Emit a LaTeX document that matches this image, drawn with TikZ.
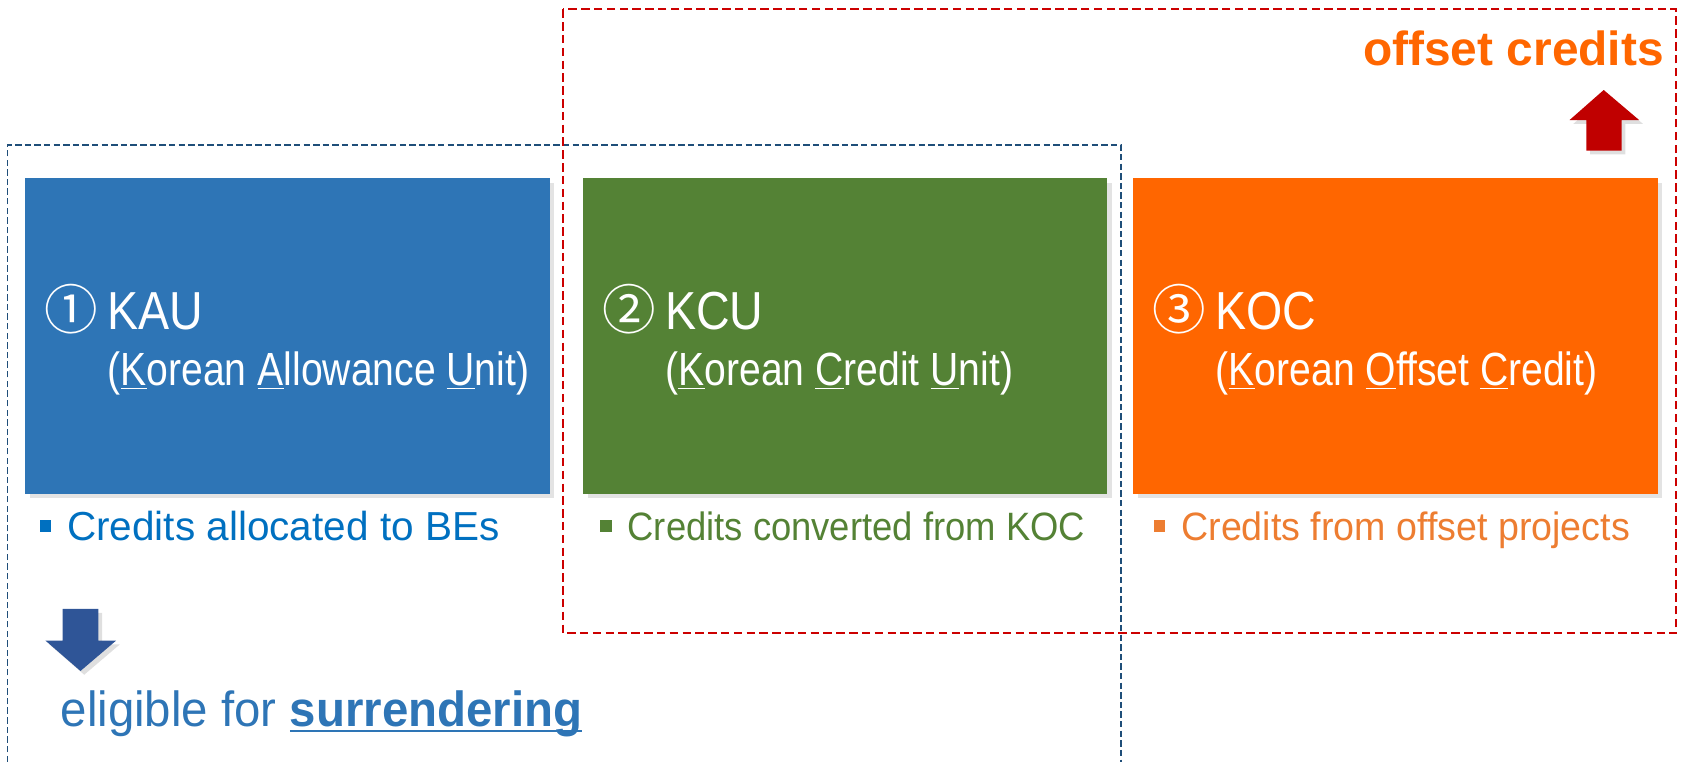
\documentclass[tikz,border=0pt]{standalone}
\usepackage{fontspec}
\usepackage{xcolor}
\setmainfont{Liberation Sans}
\newfontfamily\boxfont{Liberation Sans}[FakeStretch=0.87]
\newfontfamily\subfont{Liberation Sans}[FakeStretch=0.84]
\newfontfamily\narrowfont{Liberation Sans}[FakeStretch=0.92]
\newfontfamily\widefont{Liberation Sans}[FakeStretch=0.95]
\newfontfamily\eligfont{Liberation Sans}[FakeStretch=0.96]
\newfontfamily\circfont{Noto Sans CJK KR}

\definecolor{kaublue}{RGB}{46,117,182}
\definecolor{kcugreen}{RGB}{84,130,53}
\definecolor{kocorange}{RGB}{255,102,0}
\definecolor{kautext}{RGB}{0,112,192}
\definecolor{koctext}{RGB}{237,125,49}
\definecolor{arrowred}{RGB}{192,0,0}
\definecolor{arrowblue}{RGB}{47,85,151}
\definecolor{framered}{RGB}{204,0,0}
\definecolor{frameblue}{RGB}{31,78,121}
\usetikzlibrary{shadows,calc,positioning}

\newcommand{\bulsq}{\rule[4.4pt]{6pt}{6pt}\hspace{8.5pt}}
\newlength{\ulwd}
\newcommand{\ulword}[1]{\settowidth{\ulwd}{#1}\rlap{\rule[-3pt]{\ulwd}{1.1pt}}#1}

\begin{document}
\begin{tikzpicture}[x=0.02cm, y=-0.02cm,
  unitbox/.style={rectangle, draw=none, inner sep=0pt, anchor=north west,
    minimum width=9.78cm, minimum height=5.88cm,
    drop shadow={shadow xshift=2.5pt, shadow yshift=-2.5pt, opacity=0.22}},
  boxtitle/.style={anchor=base west, inner sep=0pt, text=white,
    font=\boxfont\fontsize{28.4}{30}\selectfont},
  boxsub/.style={anchor=base west, inner sep=0pt, text=white,
    font=\subfont\fontsize{24.7}{27}\selectfont},
  notetext/.style={anchor=base west, inner sep=0pt,
    font=\narrowfont\fontsize{21}{24}\selectfont},
  bluedash/.style={frameblue, line width=0.85pt, dash pattern=on 3.4pt off 1.7pt},
  reddash/.style={framered, line width=1.1pt, dash pattern=on 4.5pt off 2.3pt},
  arrowshadow/.style={drop shadow={shadow xshift=2pt, shadow yshift=-2pt, opacity=0.25}}]
  \useasboundingbox (0,0) rectangle (1568,710.3);

  % Unit boxes
  \foreach \x/\nm/\col/\num/\abbr/\full in {
    23/kau/kaublue/①/KAU/{(\underline{K}orean \underline{A}llowance \underline{U}nit)},
    543/kcu/kcugreen/②/KCU/{(\underline{K}orean \underline{C}redit \underline{U}nit)},
    1056/koc/kocorange/③/KOC/{(\underline{K}orean \underline{O}ffset \underline{C}redit)}} {
    \node[unitbox, fill=\col] (\nm) at (\x,166) {};
    \node[boxtitle] (\nm-title) at ($(\nm.north west)+(18,141)$) {{\circfont\num}\hspace{5pt}\abbr};
    \node[boxsub] (\nm-sub) at ($(\nm.north west)+(77,193.5)$) {\full};
  }

  % Notes under the boxes
  \node[notetext, text=kautext, font=\normalfont\fontsize{21.5}{24}\selectfont]
    (kau-note) at (36.7,503.4) {\bulsq Credits allocated to BEs};
  \node[notetext, text=kcugreen] (kcu-note) at (559.3,503.4) {\bulsq Credits converted from KOC};
  \node[notetext, text=koctext, font=\widefont\fontsize{21}{24}\selectfont]
    (koc-note) at (1075.5,503.4) {\bulsq Credits from offset projects};

  % Groupings
  \draw[bluedash] (7,710.3) |- (1045,135) -- (1045,710.3);
  \draw[reddash] (525,8.7) rectangle (1562.5,590.4);

  % Offset credits
  \node[anchor=base east, inner sep=0pt, text=kocorange, font=\bfseries\fontsize{25.4}{28}\selectfont]
    (offset) at (1551.4,60.6) {offset credits};
  \fill[arrowred, arrowshadow] (1478.8,140.5) -- (1478.8,111.9) -- (1463.2,111.9) -- (1495,83.9)
    -- (1528,111.9) -- (1511.6,111.9) -- (1511.6,140.5) -- cycle;

  % Surrendering
  \fill[arrowblue, arrowshadow] (58.3,567.7) -- (58.3,597.2) -- (42.4,597.2) -- (75,625.5)
    -- (108.2,597.2) -- (91.6,597.2) -- (91.6,567.7) -- cycle;
  \node[anchor=base west, inner sep=0pt, text=kaublue, font=\eligfont\fontsize{26.2}{29}\selectfont]
    (surrender) at (56.2,677.4) {eligible for \ulword{\bfseries surrendering}};
\end{tikzpicture}
\end{document}
